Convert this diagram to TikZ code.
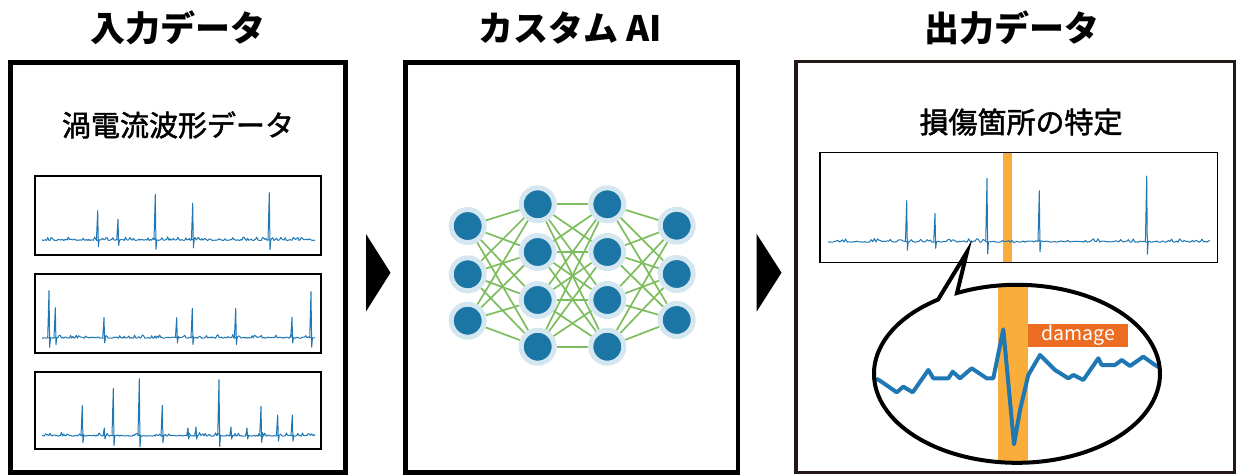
\documentclass[tikz,border=0pt]{standalone}
\usepackage{fontspec}
\newfontfamily\jp{Noto Sans CJK JP}
\newfontfamily\jpm[FakeBold=1.6]{Noto Sans CJK JP}
\usetikzlibrary{backgrounds}
\definecolor{wblue}{HTML}{1F77B4}
\definecolor{nnblue}{HTML}{1B75A5}
\definecolor{halo}{HTML}{D4E7F0}
\definecolor{edgegreen}{HTML}{7DBD5E}
\definecolor{band}{HTML}{F9AE3B}
\definecolor{dmg}{HTML}{EC6C22}
\definecolor{ink}{HTML}{231815}
\newcommand\wavenoise[3]{\draw[wave] plot[domain=#1:#2, samples=240, variable=\t] (\t, {#3 + 0.6*rand - 2.8*(rnd>0.7)*rnd});}
\newcommand\wavespikes[2]{\foreach \p/\q in {#2} {\draw[wave] ({\p-1.3},#1) -- (\p,\q) -- ({\p+0.7},{#1+0.16*(#1-\q)+2}) -- ({\p+1.5},#1);}}
\begin{document}
\begin{tikzpicture}[x=1pt,y=-1pt,
  title/.style={font=\jp\bfseries\fontsize{35}{40}\selectfont, inner sep=0pt},
  subtitle/.style={font=\jpm\fontsize{29}{34}\selectfont, inner sep=0pt},
  panel/.style={draw=black, line width=4.5pt, inner sep=0pt, outer sep=0pt},
  wbox/.style={draw=black, line width=1.3pt, inner sep=0pt, outer sep=0pt},
  wave/.style={draw=wblue, line width=1pt, line join=round},
  neuron/.style={circle, fill=nnblue, draw=halo, line width=5pt, minimum size=33pt, inner sep=0pt},
  edge/.style={draw=edgegreen, line width=1.7pt},
  tri/.style={fill=black}]
\useasboundingbox (0,0) rectangle (1239,475);
\pgfmathsetseed{7}
% titles
\node[title] (t1) at (178,28) {入力データ};
\node[title] (t2) at (570,28) {カスタム AI};
\node[title] (t3) at (1012,28) {出力データ};
% panels
\node[panel, minimum width=335pt, minimum height=410pt] (p1) at (178,267.5) {};
\node[panel, minimum width=332.5pt, minimum height=410pt] (p2) at (571.75,267.5) {};
\node[panel, draw=ink, line width=3.5pt, minimum width=438.5pt, minimum height=411pt] (p3) at (1015.25,267) {};
% arrows between panels
\fill[tri] (366,234) -- (390.5,272.7) -- (366,311.5) -- cycle;
\fill[tri] (756.7,234) -- (781.5,272.7) -- (756.7,311.5) -- cycle;
% panel 1
\node[subtitle] (s1) at (178,125) {渦電流波形データ};
\node[wbox, minimum width=286pt, minimum height=79pt] (w1) at (178,215.5) {};
\node[wbox, minimum width=286pt, minimum height=79pt] (w2) at (178,313.5) {};
\node[wbox, minimum width=286pt, minimum height=77pt] (w3) at (178,410.5) {};
\wavenoise{42}{315}{240}
\wavespikes{240}{97.7/210.7, 118/219.3, 155.3/194.3, 192.7/203.3, 269.3/192.7}
\wavenoise{42}{315}{337.7}
\wavespikes{337.7}{49/290.7, 55.3/307.7, 104/317.7, 176.7/317.7, 192.3/308.3, 235.7/308.3, 292/317.3, 311/291.7}
\wavenoise{42}{315}{435.7}
\wavespikes{435.7}{82.3/405.3, 104.3/428, 113.3/388.3, 139.3/378.7, 162.3/405.3, 188/428, 196/427, 219/379.7, 231/427, 247/428, 261/406.3, 277.7/415, 292.3/415}
% panel 2: network
\foreach \y [count=\i] in {226,274.3,320.7} \node[neuron] (a\i) at (467.7,\y) {};
\foreach \y [count=\i] in {204.3,252,300,346.7} \node[neuron] (b\i) at (537.7,\y) {};
\foreach \y [count=\i] in {204.3,252,300,346.7} \node[neuron] (c\i) at (607.3,\y) {};
\foreach \y [count=\i] in {225.7,274,320} \node[neuron] (d\i) at (676.7,\y) {};
\begin{scope}[on background layer]
\foreach \i in {1,2,3} \foreach \j in {1,2,3,4} \draw[edge] (a\i) -- (b\j);
\foreach \i in {1,2,3,4} \foreach \j in {1,2,3,4} \draw[edge] (b\i) -- (c\j);
\foreach \i in {1,2,3,4} \foreach \j in {1,2,3} \draw[edge] (c\i) -- (d\j);
\end{scope}
% panel 3
\node[subtitle] (s3) at (1021,122) {損傷箇所の特定};
\fill[band] (1002.7,153) rectangle (1011.7,262.5);
\wavenoise{828}{1210}{241.7}
\wavespikes{241.7}{906.7/200.7, 935/213.3, 987/178.3, 1039.3/190.7, 1146.7/176}
\node[wbox, minimum width=397.3pt, minimum height=110pt] (w4) at (1018.7,207.7) {};
% speech bubble
\coordinate (tip) at (967,252);
\fill[white] (957,293) arc[start angle=114.8, end angle=-236.5, x radius=143pt, y radius=89pt] -- (tip) -- cycle;
\begin{scope}
\clip (1017,374) ellipse [x radius=143pt, y radius=89pt];
\fill[band] (998,280) rectangle (1028,470);
\draw[wblue, line width=4pt, line join=round] (876,378.7) -- (880,380.7) -- (896.7,392.3) -- (903.3,386.7) -- (912.7,392.3) -- (928.3,370) -- (933.3,378.3) -- (948.3,378.3) -- (952.7,371.7) -- (960,378.3) -- (971.7,368.3) -- (986.7,378.3) -- (993.3,378.3) -- (1003.3,329.3) -- (1014,444.3) -- (1020,410) -- (1028.3,375) -- (1040,355) -- (1055,370) -- (1068.3,378.3) -- (1073.3,375) -- (1083.3,380) -- (1098.3,358.3) -- (1101.7,365) -- (1115,365) -- (1121.7,360) -- (1130,366) -- (1143.3,356.7) -- (1155,365) -- (1162,369);
\end{scope}
\node[fill=dmg, text=white, font=\jp\fontsize{19.5}{22}\selectfont, minimum width=100.6pt, minimum height=22.4pt, inner sep=0pt] (dmglabel) at (1078,335.5) {damage};
\draw[black, line width=4pt, line join=miter] (957,293) arc[start angle=114.8, end angle=-236.5, x radius=143pt, y radius=89pt] -- (tip) -- cycle;
\end{tikzpicture}
\end{document}
